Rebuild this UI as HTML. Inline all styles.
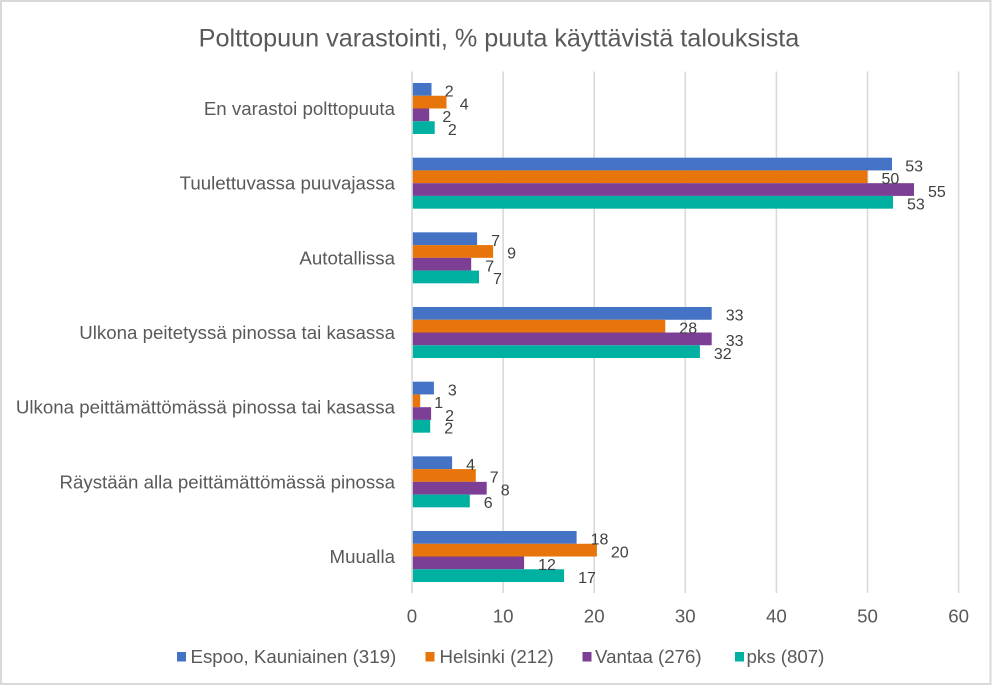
<!DOCTYPE html>
<html>
<head>
<meta charset="utf-8">
<style>
  html,body{margin:0;padding:0;background:#fff;}
  svg{display:block;}
  text{font-family:"Liberation Sans", Arial, sans-serif;}
</style>
</head>
<body>
<svg width="993" height="686" viewBox="0 0 993 686" xmlns="http://www.w3.org/2000/svg">
  <rect x="0" y="0" width="993" height="686" fill="#ffffff"/>
  <!-- outer border -->
  <rect x="1" y="1" width="989.5" height="683" fill="none" stroke="#d9d9d9" stroke-width="2"/>

  <!-- title -->
  <text x="499" y="46.5" font-size="25.2" fill="#595959" text-anchor="middle">Polttopuun varastointi, % puuta käyttävistä talouksista</text>

  <!-- gridlines -->
  <g stroke="#d9d9d9" stroke-width="1.6">
    <line x1="412" y1="71.5" x2="412" y2="593"/>
    <line x1="503.1" y1="71.5" x2="503.1" y2="593"/>
    <line x1="594.2" y1="71.5" x2="594.2" y2="593"/>
    <line x1="685.3" y1="71.5" x2="685.3" y2="593"/>
    <line x1="776.4" y1="71.5" x2="776.4" y2="593"/>
    <line x1="867.5" y1="71.5" x2="867.5" y2="593"/>
    <line x1="958.6" y1="71.5" x2="958.6" y2="593"/>
  </g>

  <!-- bars -->
  <g>
    <!-- G0 -->
    <rect x="412.8" y="83" width="18.7" height="12.75" fill="#4472C4"/>
    <rect x="412.8" y="95.75" width="33.7" height="12.75" fill="#E8740C"/>
    <rect x="412.8" y="108.5" width="16.4" height="12.75" fill="#7D3F96"/>
    <rect x="412.8" y="121.25" width="21.9" height="12.75" fill="#00B0A0"/>
    <!-- G1 -->
    <rect x="412.8" y="157.67" width="479.2" height="12.75" fill="#4472C4"/>
    <rect x="412.8" y="170.42" width="454.7" height="12.75" fill="#E8740C"/>
    <rect x="412.8" y="183.17" width="501.2" height="12.75" fill="#7D3F96"/>
    <rect x="412.8" y="195.92" width="480.2" height="12.75" fill="#00B0A0"/>
    <!-- G2 -->
    <rect x="412.8" y="232.34" width="64.3" height="12.75" fill="#4472C4"/>
    <rect x="412.8" y="245.09" width="80.3" height="12.75" fill="#E8740C"/>
    <rect x="412.8" y="257.84" width="58.4" height="12.75" fill="#7D3F96"/>
    <rect x="412.8" y="270.59" width="66.2" height="12.75" fill="#00B0A0"/>
    <!-- G3 -->
    <rect x="412.8" y="307.01" width="298.9" height="12.75" fill="#4472C4"/>
    <rect x="412.8" y="319.76" width="252.5" height="12.75" fill="#E8740C"/>
    <rect x="412.8" y="332.51" width="298.9" height="12.75" fill="#7D3F96"/>
    <rect x="412.8" y="345.26" width="287.1" height="12.75" fill="#00B0A0"/>
    <!-- G4 -->
    <rect x="412.8" y="381.68" width="21.1" height="12.75" fill="#4472C4"/>
    <rect x="412.8" y="394.43" width="7.4" height="12.75" fill="#E8740C"/>
    <rect x="412.8" y="407.18" width="18.3" height="12.75" fill="#7D3F96"/>
    <rect x="412.8" y="419.93" width="17.4" height="12.75" fill="#00B0A0"/>
    <!-- G5 -->
    <rect x="412.8" y="456.35" width="39.3" height="12.75" fill="#4472C4"/>
    <rect x="412.8" y="469.1" width="63" height="12.75" fill="#E8740C"/>
    <rect x="412.8" y="481.85" width="73.9" height="12.75" fill="#7D3F96"/>
    <rect x="412.8" y="494.6" width="57" height="12.75" fill="#00B0A0"/>
    <!-- G6 -->
    <rect x="412.8" y="531.02" width="163.8" height="12.75" fill="#4472C4"/>
    <rect x="412.8" y="543.77" width="184.1" height="12.75" fill="#E8740C"/>
    <rect x="412.8" y="556.52" width="111.3" height="12.75" fill="#7D3F96"/>
    <rect x="412.8" y="569.27" width="151.3" height="12.75" fill="#00B0A0"/>
  </g>

  <!-- data labels -->
  <g font-size="16" fill="#404040">
    <text x="444.7" y="96.6">2</text>
    <text x="459.7" y="109.35">4</text>
    <text x="442.4" y="122.1">2</text>
    <text x="447.9" y="134.85">2</text>

    <text x="905.2" y="171.27">53</text>
    <text x="881.5" y="184.02">50</text>
    <text x="928" y="196.77">55</text>
    <text x="907" y="209.52">53</text>

    <text x="491.1" y="245.94">7</text>
    <text x="507.1" y="258.69">9</text>
    <text x="485.2" y="271.44">7</text>
    <text x="493" y="284.19">7</text>

    <text x="725.7" y="320.61">33</text>
    <text x="679.3" y="333.36">28</text>
    <text x="725.7" y="346.11">33</text>
    <text x="713.9" y="358.86">32</text>

    <text x="447.9" y="395.28">3</text>
    <text x="434.2" y="408.03">1</text>
    <text x="445.1" y="420.78">2</text>
    <text x="444.2" y="433.53">2</text>

    <text x="466.1" y="469.95">4</text>
    <text x="489.8" y="482.7">7</text>
    <text x="500.7" y="495.45">8</text>
    <text x="483.8" y="508.2">6</text>

    <text x="590.6" y="544.62">18</text>
    <text x="610.9" y="557.37">20</text>
    <text x="538.1" y="570.12">12</text>
    <text x="578.1" y="582.87">17</text>
  </g>

  <!-- category labels -->
  <g font-size="18.7" fill="#595959" text-anchor="end">
    <text x="395" y="115">En varastoi polttopuuta</text>
    <text x="395" y="189.67">Tuulettuvassa puuvajassa</text>
    <text x="395" y="264.34">Autotallissa</text>
    <text x="395" y="339.01">Ulkona peitetyssä pinossa tai kasassa</text>
    <text x="395" y="413.68">Ulkona peittämättömässä pinossa tai kasassa</text>
    <text x="395" y="488.35">Räystään alla peittämättömässä pinossa</text>
    <text x="395" y="563.02">Muualla</text>
  </g>

  <!-- x tick labels -->
  <g font-size="18.7" fill="#595959" text-anchor="middle">
    <text x="412" y="622.3">0</text>
    <text x="503.1" y="622.3">10</text>
    <text x="594.2" y="622.3">20</text>
    <text x="685.3" y="622.3">30</text>
    <text x="776.4" y="622.3">40</text>
    <text x="867.5" y="622.3">50</text>
    <text x="958.6" y="622.3">60</text>
  </g>

  <!-- legend -->
  <g font-size="18.7" fill="#595959">
    <rect x="177" y="652" width="9" height="9.5" fill="#4472C4"/>
    <text x="190.5" y="663.2">Espoo, Kauniainen (319)</text>
    <rect x="425.5" y="652" width="9" height="9.5" fill="#E8740C"/>
    <text x="439.5" y="663.2">Helsinki (212)</text>
    <rect x="582.5" y="652" width="9" height="9.5" fill="#7D3F96"/>
    <text x="595" y="663.2">Vantaa (276)</text>
    <rect x="735" y="652" width="9" height="9.5" fill="#00B0A0"/>
    <text x="746.5" y="663.2">pks (807)</text>
  </g>
</svg>
</body>
</html>
